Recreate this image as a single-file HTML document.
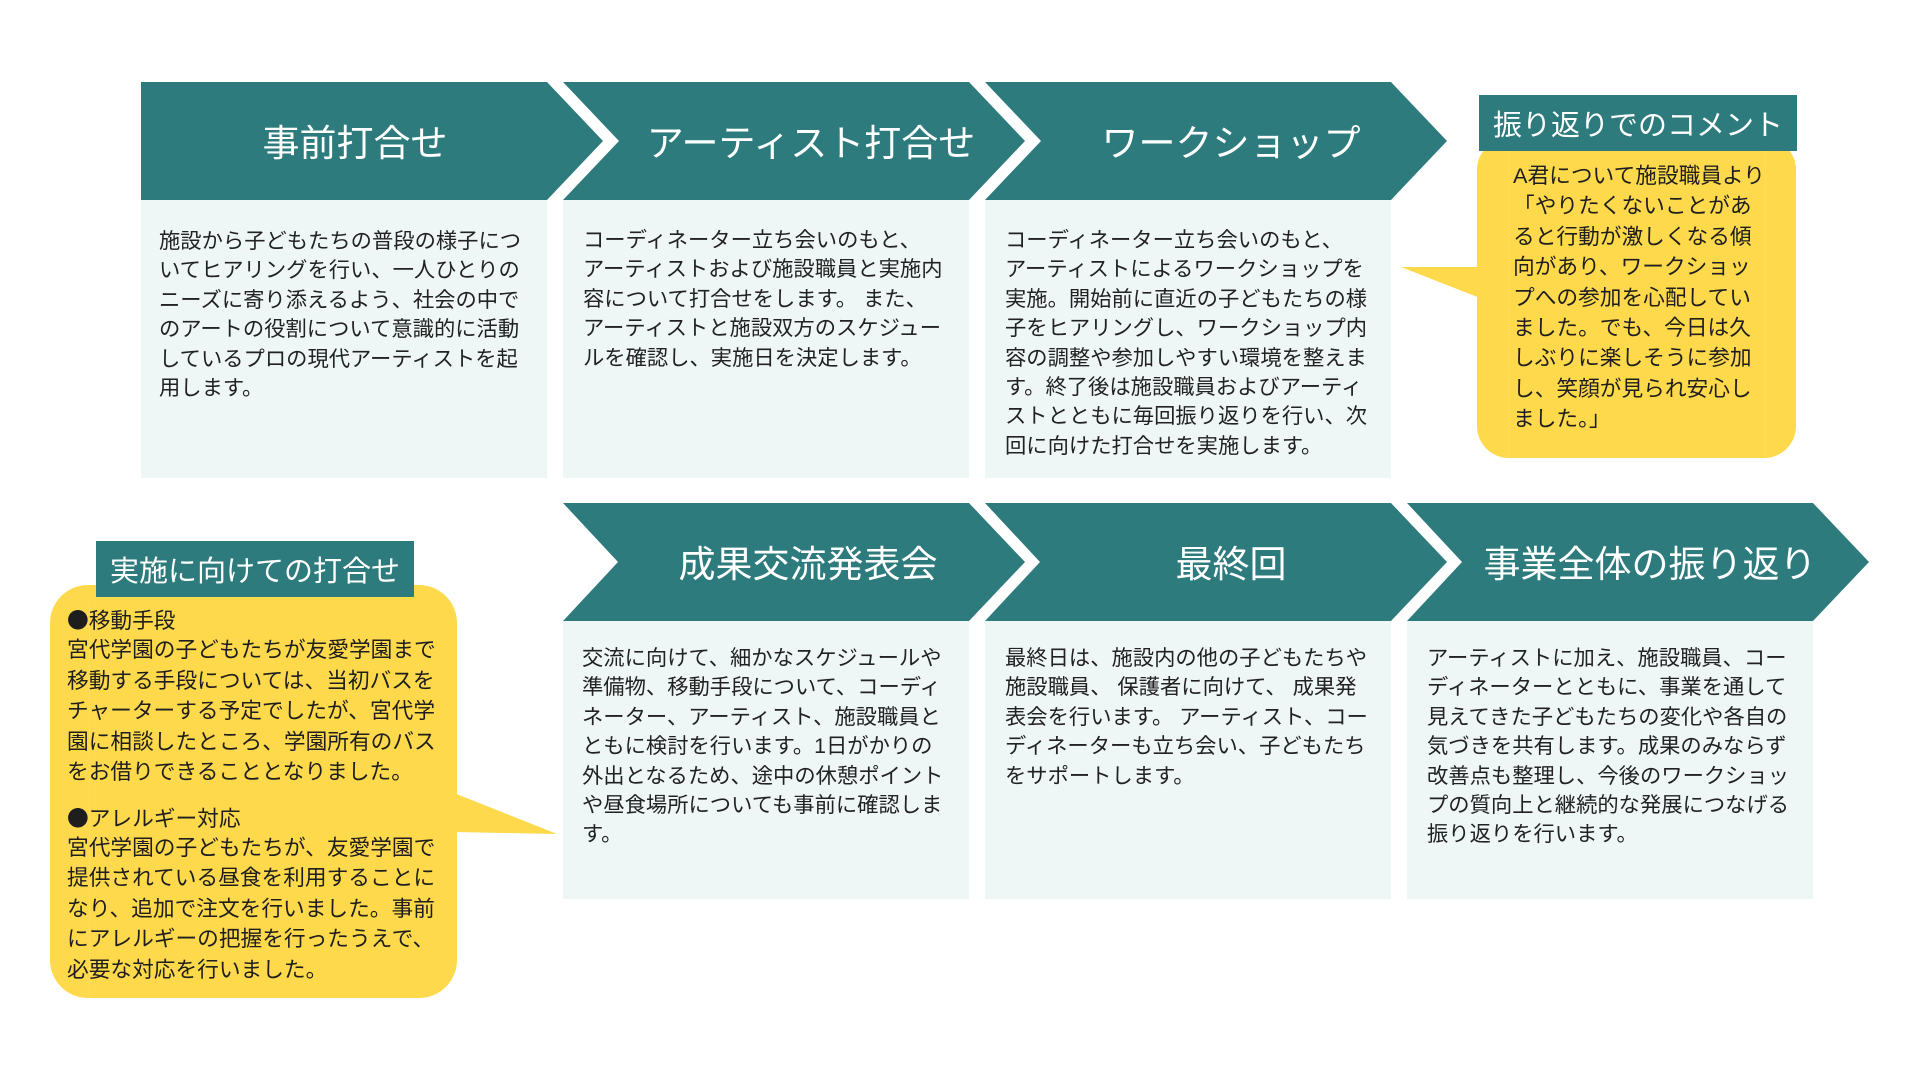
<!DOCTYPE html>
<html lang="ja">
<head>
<meta charset="utf-8">
<style>
  html, body { margin: 0; padding: 0; }
  body {
    width: 1920px; height: 1080px; position: relative; overflow: hidden;
    background: #ffffff;
    font-family: "Liberation Sans", "Noto Sans CJK JP", sans-serif;
  }
  svg.bg { position: absolute; left: 0; top: 0; }
  .h {
    position: absolute; width: 460px; height: 50px; line-height: 50px;
    text-align: center; color: #ffffff; font-size: 37px; white-space: nowrap;
    font-weight: 400;
  }
  .t { position: absolute; color: #222222; font-size: 21.3px; }
  .t > div { height: 29.4px; line-height: 29.4px; white-space: nowrap; }
  .b { position: absolute; color: #1e1e1e; font-size: 21.7px; }
  .b > div { height: 30.4px; line-height: 30.4px; white-space: nowrap; }
  .b > div.sp { height: 15.3px; }
  .cj { font-family: "Noto Sans CJK JP", sans-serif; }
  .title {
    position: absolute; background: #2e7b7d; color: #ffffff; font-size: 29px;
    text-align: center; white-space: nowrap; overflow: hidden;
  }
</style>
</head>
<body>
<svg class="bg" width="1920" height="1080" viewBox="0 0 1920 1080" xmlns="http://www.w3.org/2000/svg">
  <!-- Row 1 bodies -->
  <rect x="141" y="199" width="406" height="279" fill="#eff7f6"/>
  <rect x="563" y="199" width="406" height="279" fill="#eff7f6"/>
  <rect x="985" y="199" width="406" height="279" fill="#eff7f6"/>
  <!-- Row 1 headers -->
  <polygon points="141,82 547,82 603,141 547,200 141,200" fill="#2e7b7d"/>
  <polygon points="563,82 969,82 1025,141 969,200 563,200 619,141" fill="#2e7b7d"/>
  <polygon points="985,82 1391,82 1447,141 1391,200 985,200 1041,141" fill="#2e7b7d"/>

  <!-- Row 2 bodies -->
  <rect x="563" y="620" width="406" height="279" fill="#eff7f6"/>
  <rect x="985" y="620" width="406" height="279" fill="#eff7f6"/>
  <rect x="1407" y="620" width="406" height="279" fill="#eff7f6"/>
  <!-- Row 2 headers -->
  <polygon points="563,503 969,503 1025,562 969,621 563,621 618,562" fill="#2e7b7d"/>
  <polygon points="985,503 1391,503 1447,562 1391,621 985,621 1040,562" fill="#2e7b7d"/>
  <polygon points="1407,503 1813,503 1869,562 1813,621 1407,621 1462,562" fill="#2e7b7d"/>

  <!-- Right bubble -->
  <rect x="1477" y="138" width="319" height="320" rx="32" ry="32" fill="#fed94b"/>
  <polygon points="1401,267 1480,267 1480,298" fill="#fed94b"/>
  <line x1="1508.5" y1="151" x2="1508.5" y2="458" stroke="#fedd62" stroke-width="1"/>
  <line x1="1765.5" y1="151" x2="1765.5" y2="458" stroke="#fedd62" stroke-width="1"/>

  <!-- Left bubble -->
  <rect x="50" y="585" width="407" height="413" rx="38" ry="38" fill="#fed94b"/>
  <polygon points="454,793 557,834 454,832" fill="#fed94b"/>
  <line x1="89.5" y1="597" x2="89.5" y2="998" stroke="#fedd62" stroke-width="1"/>
</svg>

<!-- Header labels -->
<div class="h" style="left:125px; top:119px;">事前打合せ</div>
<div class="h" style="left:581px; top:119px;">アーティスト打合せ</div>
<div class="h" style="left:1001px; top:119px;">ワークショップ</div>
<div class="h" style="left:578px; top:540px;">成果交流発表会</div>
<div class="h" style="left:1001px; top:540px;">最終回</div>
<div class="h" style="left:1420px; top:540px;">事業全体の振り返り</div>

<!-- Row 1 body texts -->
<div class="t" style="left:159px; top:227px;">
  <div>施設から子どもたちの普段の様子につ</div>
  <div>いてヒアリングを行い、一人ひとりの</div>
  <div>ニーズに寄り添えるよう、社会の中で</div>
  <div>のアートの役割について意識的に活動</div>
  <div>しているプロの現代アーティストを起</div>
  <div>用します。</div>
</div>
<div class="t" style="left:583px; top:226px;">
  <div>コーディネーター立ち会いのもと、</div>
  <div>アーティストおよび施設職員と実施内</div>
  <div>容について打合せをします。 また、</div>
  <div>アーティストと施設双方のスケジュー</div>
  <div>ルを確認し、実施日を決定します。</div>
</div>
<div class="t" style="left:1005px; top:226px;">
  <div>コーディネーター立ち会いのもと、</div>
  <div>アーティストによるワークショップを</div>
  <div>実施。開始前に直近の子どもたちの様</div>
  <div>子をヒアリングし、ワークショップ内</div>
  <div>容の調整や参加しやすい環境を整えま</div>
  <div>す。終了後は施設職員およびアーティ</div>
  <div>ストとともに毎回振り返りを行い、次</div>
  <div>回に向けた打合せを実施します。</div>
</div>

<!-- Row 2 body texts -->
<div class="t" style="left:582px; top:644px;">
  <div>交流に向けて、細かなスケジュールや</div>
  <div>準備物、移動手段について、コーディ</div>
  <div>ネーター、アーティスト、施設職員と</div>
  <div>ともに検討を行います。1日がかりの</div>
  <div>外出となるため、途中の休憩ポイント</div>
  <div>や昼食場所についても事前に確認しま</div>
  <div>す。</div>
</div>
<div class="t" style="left:1005px; top:644px;">
  <div>最終日は、施設内の他の子どもたちや</div>
  <div>施設職員、 保護者に向けて、 成果発</div>
  <div>表会を行います。 アーティスト、コー</div>
  <div>ディネーターも立ち会い、子どもたち</div>
  <div>をサポートします。</div>
</div>
<div class="t" style="left:1427px; top:644px;">
  <div>アーティストに加え、施設職員、コー</div>
  <div>ディネーターとともに、事業を通して</div>
  <div>見えてきた子どもたちの変化や各自の</div>
  <div>気づきを共有します。成果のみならず</div>
  <div>改善点も整理し、今後のワークショッ</div>
  <div>プの質向上と継続的な発展につなげる</div>
  <div>振り返りを行います。</div>
</div>

<!-- Right bubble -->
<div class="title" style="left:1479px; top:95px; width:318px; height:56px; line-height:62px;">振り返りでのコメント</div>
<div class="b" style="left:1513px; top:161px;">
  <div>A君について施設職員より</div>
  <div>「やりたくないことがあ</div>
  <div>ると行動が激しくなる傾</div>
  <div>向があり、ワークショッ</div>
  <div>プへの参加を心配してい</div>
  <div>ました。でも、今日は久</div>
  <div>しぶりに楽しそうに参加</div>
  <div>し、笑顔が見られ安心し</div>
  <div>ました。」</div>
</div>

<!-- Left bubble -->
<div class="title" style="left:96px; top:541px; width:318px; height:56px; line-height:62px;">実施に向けての打合せ</div>
<div class="b" style="left:67px; top:605px;">
  <div><span class="cj">●</span>移動手段</div>
  <div>宮代学園の子どもたちが友愛学園まで</div>
  <div>移動する手段については、当初バスを</div>
  <div>チャーターする予定でしたが、宮代学</div>
  <div>園に相談したところ、学園所有のバス</div>
  <div>をお借りできることとなりました。</div>
  <div class="sp"></div>
  <div><span class="cj">●</span>アレルギー対応</div>
  <div>宮代学園の子どもたちが、友愛学園で</div>
  <div>提供されている昼食を利用することに</div>
  <div>なり、追加で注文を行いました。事前</div>
  <div>にアレルギーの把握を行ったうえで、</div>
  <div>必要な対応を行いました。</div>
</div>
</body>
</html>
